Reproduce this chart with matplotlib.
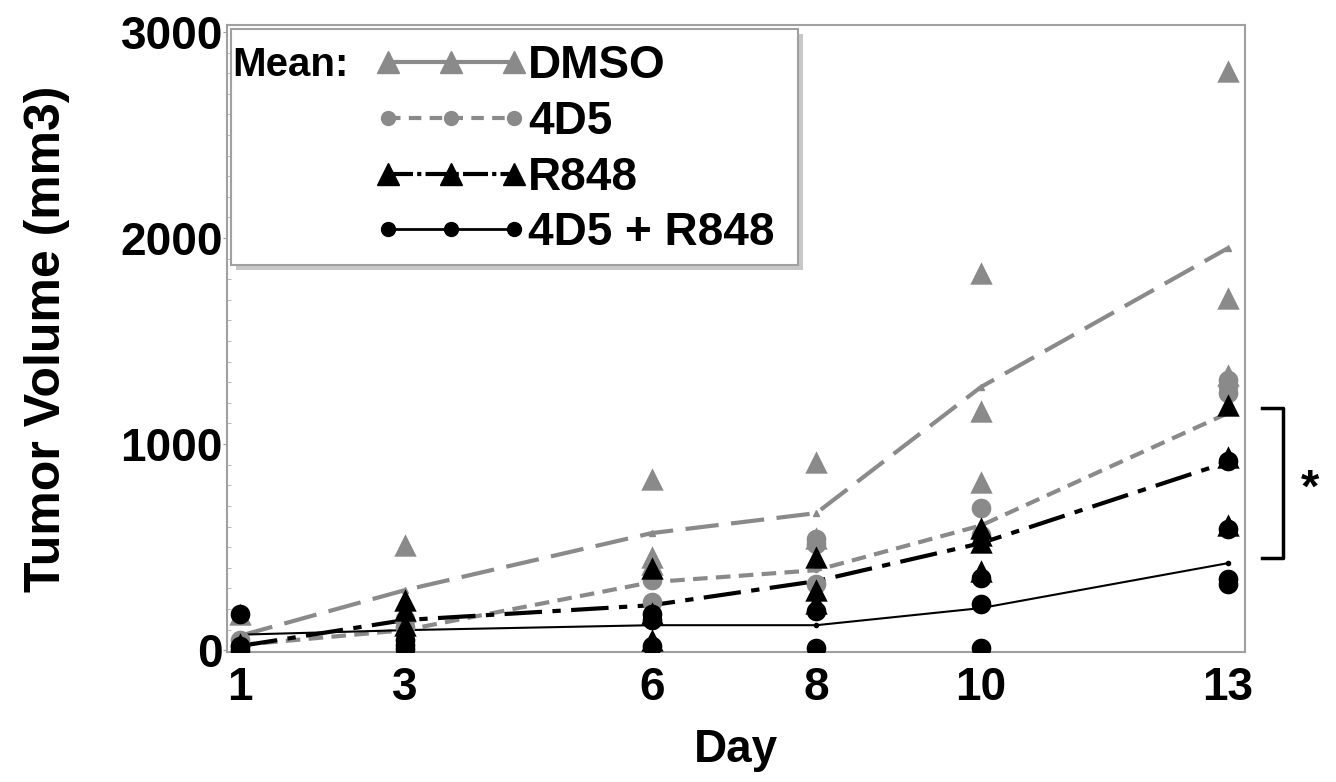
import matplotlib
matplotlib.use('Agg')
import matplotlib.pyplot as plt
from matplotlib.lines import Line2D
from matplotlib.patches import Rectangle
from matplotlib.ticker import MultipleLocator

plt.rcParams['font.family'] = ['Liberation Sans', 'DejaVu Sans']
plt.rcParams['font.weight'] = 'bold'

days = [1, 3, 6, 8, 10, 13]

# group means
mean_dmso = [70, 291, 568, 665, 1277, 1951]
mean_4d5 = [25, 97, 330, 388, 605, 1150]
mean_r848 = [20, 146, 218, 335, 519, 913]
mean_combo = [75, 97, 121, 121, 204, 422]

# individual mice (day, volume)
pts_dmso_x = [1, 1, 1, 3, 3, 6, 6, 6, 8, 8, 10, 10, 10, 13, 13, 13]
pts_dmso_y = [175, 30, 10, 510, 190, 830, 450, 420, 915, 545, 1830, 1160, 815, 2810, 1710, 1335]
pts_4d5_x = [1, 1, 3, 3, 6, 6, 8, 8, 8, 10, 10, 13, 13, 13]
pts_4d5_y = [50, 20, 150, 110, 340, 235, 540, 515, 320, 690, 560, 1310, 1280, 1250]
pts_r848_x = [1, 1, 1, 3, 3, 3, 6, 6, 6, 8, 8, 8, 10, 10, 10, 10, 13, 13, 13]
pts_r848_y = [30, 10, 0, 245, 195, 120, 400, 50, 180, 450, 290, 230, 595, 560, 525, 385, 1190, 935, 605]
pts_combo_x = [1, 1, 1, 3, 3, 3, 6, 6, 6, 8, 8, 10, 10, 10, 13, 13, 13, 13]
pts_combo_y = [175, 20, 0, 50, 25, 5, 175, 145, 20, 190, 10, 350, 225, 12, 920, 590, 345, 320]

labels = ['DMSO', '4D5', 'R848', '4D5 + R848']
GRAY = '#8a8a8a'

fig = plt.figure(figsize=(13.36, 7.82), dpi=100)
ax = fig.add_axes([0.170, 0.166, 0.762, 0.802])

# individual points
ax.scatter(pts_dmso_x, pts_dmso_y, marker='^', s=260, color=GRAY, zorder=3, linewidths=0)
ax.scatter(pts_4d5_x, pts_4d5_y, marker='o', s=200, color=GRAY, zorder=3, linewidths=0)
ax.scatter(pts_combo_x, pts_combo_y, marker='o', s=200, color='black', zorder=4, linewidths=0)
ax.scatter(pts_r848_x, pts_r848_y, marker='^', s=260, color='black', zorder=4, linewidths=0)

# mean lines
ax.plot(days, mean_dmso, color=GRAY, lw=3, dashes=(8, 3), marker='^', ms=5, zorder=2)
ax.plot(days, mean_4d5, color=GRAY, lw=3, dashes=(3.5, 2), marker='o', ms=3, zorder=2)
ax.plot(days, mean_r848, color='black', lw=3, dashes=(9, 2.5, 2, 2.5), marker='^', ms=3, zorder=2)
ax.plot(days, mean_combo, color='black', lw=1.5, marker='o', ms=3, zorder=2)

ax.set_xlim(0.842, 13.21)
ax.set_ylim(-10, 3034)
ax.set_xticks(days)
ax.set_yticks([0, 1000, 2000, 3000])
ax.yaxis.set_minor_locator(MultipleLocator(100))
for sp in ax.spines.values():
    sp.set_color('#a0a0a0')
    sp.set_linewidth(1.5)
ax.tick_params(axis='y', which='major', length=3, color='#a0a0a0', labelsize=33, pad=0)
ax.tick_params(axis='y', which='minor', length=3, direction='in', color='#b0b0b0')
ax.tick_params(axis='x', length=0, labelsize=33, pad=10)
ax.set_xlabel('Day', fontsize=33, fontweight='bold', labelpad=13)
ax.set_ylabel('Tumor Volume (mm3)', fontsize=36, fontweight='bold', labelpad=36)

# legend box with shadow
ax.add_patch(Rectangle((0.009, 0.609), 0.557, 0.377, transform=ax.transAxes,
                       facecolor='#c8c8c8', edgecolor='none', zorder=5))
ax.add_patch(Rectangle((0.004, 0.617), 0.557, 0.377, transform=ax.transAxes,
                       facecolor='white', edgecolor='#a0a0a0', lw=1.5, zorder=6))
ax.text(0.005, 0.937, 'Mean:', transform=ax.transAxes, fontsize=29, fontweight='bold',
        ha='left', va='center', zorder=7)

handles = [
    Line2D([], [], color=GRAY, lw=3, marker='^', ms=16),
    Line2D([], [], color=GRAY, lw=3, dashes=(3, 2), marker='o', ms=10),
    Line2D([], [], color='black', lw=3, dashes=(6, 1, 1, 1), marker='^', ms=16),
    Line2D([], [], color='black', lw=2, marker='o', ms=10),
]
leg = ax.legend(handles, labels, loc='upper left', bbox_to_anchor=(0.118, 1.014),
                frameon=False, numpoints=3, handlelength=3.33, handletextpad=0.02,
                labelspacing=0.26, borderpad=0.1, prop={'size': 33, 'weight': 'bold'})
leg.set_zorder(8)

# significance bracket
ax.plot([13.41, 13.67, 13.67, 13.41], [1175, 1175, 447, 447], color='black', lw=2.5,
        clip_on=False)
ax.text(14.0, 780, '*', fontsize=34, fontweight='bold', ha='center', va='center')

fig.savefig('out.png', dpi=100)
